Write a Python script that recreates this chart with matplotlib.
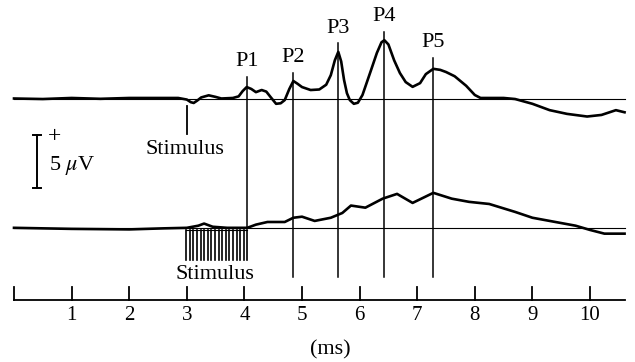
import matplotlib.pyplot as plt

plt.rcParams['font.family'] = ['Liberation Serif', 'DejaVu Serif']
plt.rcParams['mathtext.fontset'] = 'stix'

# time (ms) and amplitude (uV)
upper_t = [0.0, 0.5, 1.0, 1.5, 2.0, 2.5, 2.85, 3.0, 3.07, 3.12, 3.18, 3.25, 3.38, 3.5, 3.6,
           3.8, 3.9, 3.97, 4.04, 4.12, 4.2, 4.3, 4.38, 4.46, 4.55, 4.63, 4.7, 4.78, 4.85,
           4.92, 5.0, 5.15, 5.3, 5.42, 5.5, 5.57, 5.63, 5.68, 5.73, 5.78, 5.83, 5.9, 5.97,
           6.05, 6.2, 6.3, 6.38, 6.43, 6.5, 6.6, 6.7, 6.8, 6.92, 7.05, 7.15, 7.28, 7.4,
           7.5, 7.65, 7.85, 8.0, 8.1, 8.5, 8.7, 9.0, 9.3, 9.6, 9.95, 10.2, 10.45, 10.6]
upper_v = [0.0, -0.05, 0.05, -0.03, 0.05, 0.05, 0.05, -0.1, -0.35, -0.42, -0.2, 0.1, 0.3, 0.15, 0.0,
           0.05, 0.2, 0.7, 1.08, 0.9, 0.6, 0.8, 0.65, 0.1, -0.5, -0.45, -0.15, 0.9, 1.65,
           1.4, 1.08, 0.8, 0.85, 1.3, 2.2, 3.6, 4.4, 3.5, 1.75, 0.5, -0.15, -0.5, -0.4,
           0.33, 2.7, 4.3, 5.3, 5.5, 5.1, 3.6, 2.4, 1.55, 1.1, 1.45, 2.3, 2.8, 2.7,
           2.5, 2.1, 1.2, 0.33, 0.05, 0.05, -0.05, -0.5, -1.1, -1.45, -1.7, -1.55, -1.1, -1.3]

lower_t = [0.0, 1.0, 2.0, 2.6, 3.0, 3.2, 3.3, 3.45, 3.7, 4.05, 4.2, 4.4, 4.7, 4.85, 5.0,
           5.22, 5.5, 5.7, 5.85, 6.1, 6.4, 6.65, 6.92, 7.28, 7.6, 7.9, 8.25, 8.7, 9.0,
           9.4, 9.75, 10.0, 10.25, 10.6]
lower_v = [0.0, -0.1, -0.15, -0.05, 0.0, 0.2, 0.4, 0.1, 0.0, 0.0, 0.3, 0.55, 0.55, 0.95, 1.05,
           0.65, 0.95, 1.4, 2.1, 1.9, 2.75, 3.2, 2.35, 3.3, 2.75, 2.45, 2.25, 1.5, 0.95,
           0.55, 0.2, -0.2, -0.55, -0.55]

peak_names = ['P1', 'P2', 'P3', 'P4', 'P5']
peak_t = [4.04, 4.85, 5.63, 6.43, 7.28]
peak_top = [2.0, 2.4, 5.2, 6.3, 3.8]
ticks = list(range(0, 11))
tick_labels = [''] + [str(t) for t in ticks[1:]]

lower_off = -12.2
axis_y = -19.0

fig = plt.figure(figsize=(6.35, 3.62), dpi=100)
ax = fig.add_axes([0, 0, 1, 1])
ax.set_xlim(-14 / 57.6, 621 / 57.6)
ax.set_ylim(-(362 - 98.5) / 10.6, 98.5 / 10.6)
ax.axis('off')

# baselines
ax.plot([0, 10.6], [0, 0], color='black', lw=0.8)
ax.plot([0, 10.6], [lower_off, lower_off], color='black', lw=0.8)

# traces
ax.plot(upper_t, upper_v, color='black', lw=1.9, solid_joinstyle='round')
ax.plot(lower_t, [v + lower_off for v in lower_v], color='black', lw=1.9,
        solid_joinstyle='round')

# peak markers
for i, (name, t, top) in enumerate(zip(peak_names, peak_t, peak_top)):
    bottom = lower_off if i == 0 else -16.8
    ax.plot([t, t], [bottom, top], color='black', lw=1.1)
    ax.text(t, top + 1.45, name, ha='center', va='center', fontsize=16)

# stimulus (upper)
ax.plot([3.0, 3.0], [-0.7, -3.35], color='black', lw=1.3)
ax.text(2.97, -4.85, 'Stimulus', ha='center', va='center', fontsize=16)

# stimulus train (lower)
n_lines = 18
for k in range(n_lines):
    x = 2.99 + k * (4.05 - 2.99) / (n_lines - 1)
    ax.plot([x, x], [lower_off - 0.2, lower_off - 3.0], color='black', lw=1.2)
ax.plot([2.99, 4.05], [lower_off - 0.2, lower_off - 0.2], color='black', lw=0.8)
ax.text(3.49, -16.65, 'Stimulus', ha='center', va='center', fontsize=16)

# scale bar
ax.plot([0.4, 0.4], [-3.44, -8.44], color='black', lw=1.4)
ax.plot([0.33, 0.47], [-3.44, -3.44], color='black', lw=1.4)
ax.plot([0.33, 0.47], [-8.44, -8.44], color='black', lw=1.4)
ax.text(0.71, -3.6, '+', ha='center', va='center', fontsize=17)
ax.text(0.6, -6.3, r'5 $\mu$V', ha='left', va='center', fontsize=16)

# time axis
ax.plot([0, 10.6], [axis_y, axis_y], color='black', lw=1.3)
for t, lab in zip(ticks, tick_labels):
    ax.plot([t, t], [axis_y, axis_y + 1.23], color='black', lw=1.3)
    ax.text(t, axis_y - 1.45, lab, ha='center', va='center', fontsize=15)
ax.text(5.49, -23.7, '(ms)', ha='center', va='center', fontsize=16)

fig.savefig('out.png', dpi=100)
